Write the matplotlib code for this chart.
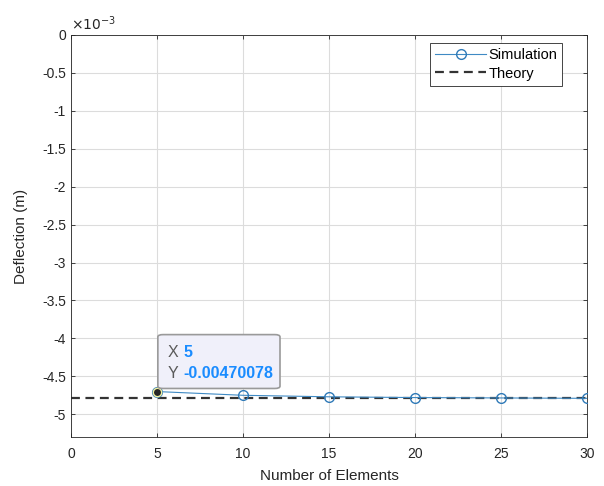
import matplotlib
matplotlib.use("Agg")
import matplotlib.pyplot as plt
from matplotlib.patches import FancyBboxPatch
import numpy as np

plt.rcParams['font.family'] = ['Liberation Sans', 'DejaVu Sans']

n_elements = [5, 10, 15, 20, 25, 30]
deflection = [-0.00470078, -0.00475, -0.00477, -0.00478, -0.004785, -0.00479]
theory = -0.00479
x_ticks = [0, 5, 10, 15, 20, 25, 30]
y_ticks = [-5e-3, -4.5e-3, -4e-3, -3.5e-3, -3e-3, -2.5e-3, -2e-3, -1.5e-3, -1e-3, -0.5e-3, 0]
y_labels = ['-5', '-4.5', '-4', '-3.5', '-3', '-2.5', '-2', '-1.5', '-1', '-0.5', '0']

fig = plt.figure(figsize=(6.04, 4.86), dpi=100)
ax = fig.add_axes([0.1175, 0.1008, 0.8545, 0.8272])

line_color = '#3f8ac4'
ax.plot(n_elements, deflection, '-o', color=line_color, lw=0.8, ms=7,
        mfc='none', mec='#2f7ab8', mew=1.0, label='Simulation', zorder=3)
ax.plot([0, 30], [theory, theory], '--', color='#333333', lw=1.6,
        dashes=(4, 2.5), label='Theory', zorder=2)

ax.set_xlim(0, 30)
ax.set_ylim(-5.3e-3, 0)
ax.set_xticks(x_ticks)
ax.set_yticks(y_ticks)
ax.set_yticklabels(y_labels)
ax.grid(True, color='#dcdcdc', lw=0.8)
ax.set_axisbelow(True)
for s in ax.spines.values():
    s.set_color('#262626')
    s.set_linewidth(0.6)
ax.tick_params(labelsize=10, colors='#262626', direction='in', length=3, width=0.6,
               top=True, right=True)
ax.tick_params(axis='x', pad=7)
ax.set_xlabel('Number of Elements', fontsize=11, color='#262626', labelpad=6)
ax.set_ylabel('Deflection (m)', fontsize=11, color='#262626', labelpad=10)
ax.text(0.0, 1.005, r'$\times10^{-3}$', transform=ax.transAxes, fontsize=10,
        color='#262626', ha='left', va='bottom')

leg = ax.legend(loc='upper right', bbox_to_anchor=(0.952, 0.98), fontsize=10.5,
                fancybox=False, edgecolor='#262626', framealpha=1,
                handlelength=3.5, borderpad=0.35, labelspacing=0.3, handletextpad=0.15,
                borderaxespad=0)
leg.get_frame().set_linewidth(0.6)

# data tip
dx, dy = n_elements[0], deflection[0]
ax.plot([dx], [dy], 'o', ms=6, mfc='#262626', mec='#f0f0a0', mew=1.0, zorder=5)
box = FancyBboxPatch((5.05, -4.66e-3), 7.1, 0.71e-3,
                     boxstyle='round,pad=0,rounding_size=0.3',
                     mutation_aspect=1e-4,
                     fc='#f0f0fa', ec='#9a9a9a', lw=1.2, zorder=6)
ax.add_patch(box)
ax.text(5.6, -4.19e-3, 'X', fontsize=11.5, color='#5a5a5a', va='center', zorder=7)
ax.text(6.55, -4.19e-3, '5', fontsize=11.5, color='#1a8cff', fontweight='bold', va='center', zorder=7)
ax.text(5.6, -4.46e-3, 'Y', fontsize=11.5, color='#5a5a5a', va='center', zorder=7)
ax.text(6.55, -4.46e-3, '-0.00470078', fontsize=11.5, color='#1a8cff', fontweight='bold', va='center', zorder=7)

fig.savefig('out.png', dpi=100)
